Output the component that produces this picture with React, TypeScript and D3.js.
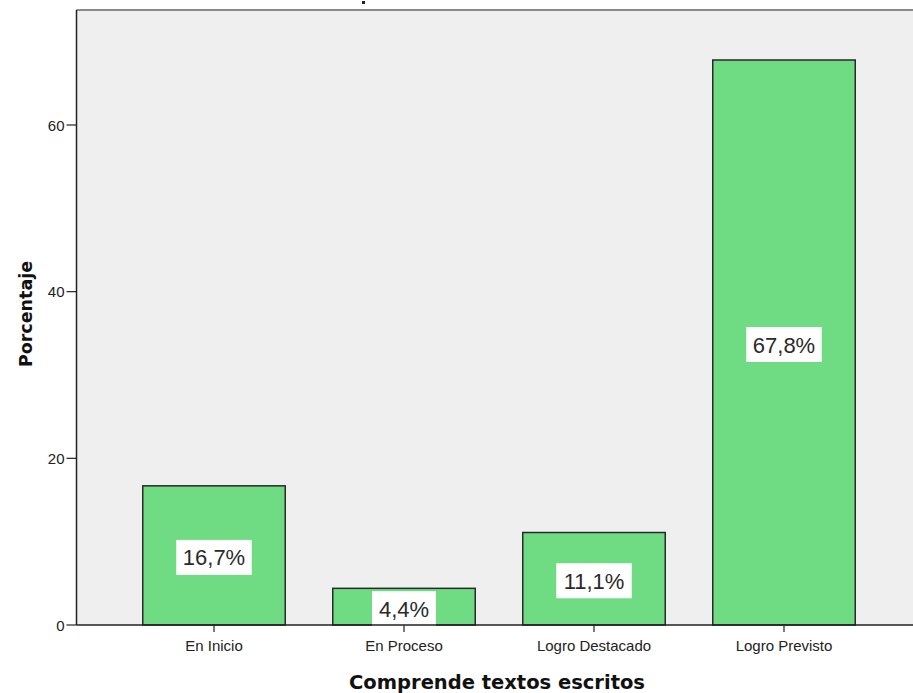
import React from "react";
import * as d3 from "d3";

const categories = ["En Inicio", "En Proceso", "Logro Destacado", "Logro Previsto"];
const values = [16.7, 4.4, 11.1, 67.8];
const labels = ["16,7%", "4,4%", "11,1%", "67,8%"];
const yTicks = [0, 20, 40, 60];

export default function App() {
  const W = 913, H = 693;
  const left = 76.5, top = 10, bottom = 625;
  const y = d3.scaleLinear().domain([0, 73.8]).range([bottom, top]);
  const x = d3.scaleBand().domain(categories).range([119, 879]).paddingInner(0.25).paddingOuter(0.125);
  const font = "'Liberation Sans', Arial, sans-serif";
  const boldFont = "'DejaVu Sans', sans-serif";
  return (
    <svg width={W} height={H} style={{ position: "absolute", left: 0, top: 0, background: "#fff" }}>
      <rect x={left} y={top} width={W - left} height={bottom - top} fill="#efefef" />
      <line x1={left} x2={W} y1={top} y2={top} stroke="#8a8a8a" strokeWidth={2} />
      {categories.map((c, i) => {
        const bx = x(c)!;
        const by = y(values[i]);
        const cx = bx + x.bandwidth() / 2;
        const cy = (by + bottom) / 2 + 2;
        const tw = labels[i].length * 11.5 + 18;
        return (
          <g key={c}>
            <rect x={bx} y={by} width={x.bandwidth()} height={bottom - by} fill="#6fdb82" stroke="#2a2a2a" strokeWidth={1.5} />
            <rect x={cx - tw / 2} y={cy - 17.5} width={tw} height={35} fill="#fff" />
            <text x={cx} y={cy + 8} textAnchor="middle" fontFamily={font} fontSize={22} fill="#2a2a2a">{labels[i]}</text>
            <line x1={cx} x2={cx} y1={bottom} y2={bottom + 7} stroke="#222" strokeWidth={1.2} />
            <text x={cx} y={651} textAnchor="middle" fontFamily={font} fontSize={15} fill="#222">{c}</text>
          </g>
        );
      })}
      <line x1={left} x2={W} y1={bottom} y2={bottom} stroke="#222" strokeWidth={1.5} />
      <line x1={left} x2={left} y1={top} y2={bottom} stroke="#222" strokeWidth={1.5} />
      {yTicks.map(t => (
        <g key={t}>
          <line x1={left - 10} x2={left} y1={y(t)} y2={y(t)} stroke="#222" strokeWidth={1.2} />
          <text x={left - 12} y={y(t) + 5.5} textAnchor="end" fontFamily={font} fontSize={15} fill="#222">{t}</text>
        </g>
      ))}
      <text transform={`translate(32,314) rotate(-90)`} textAnchor="middle" fontFamily={boldFont} fontSize={17.5} fontWeight="bold" fill="#111">Porcentaje</text>
      <text x={497} y={689} textAnchor="middle" fontFamily={boldFont} fontSize={19.5} fontWeight="bold" fill="#111">Comprende textos escritos</text>
      <rect x={362} y={1} width={3} height={3} fill="#222" />
    </svg>
  );
}
